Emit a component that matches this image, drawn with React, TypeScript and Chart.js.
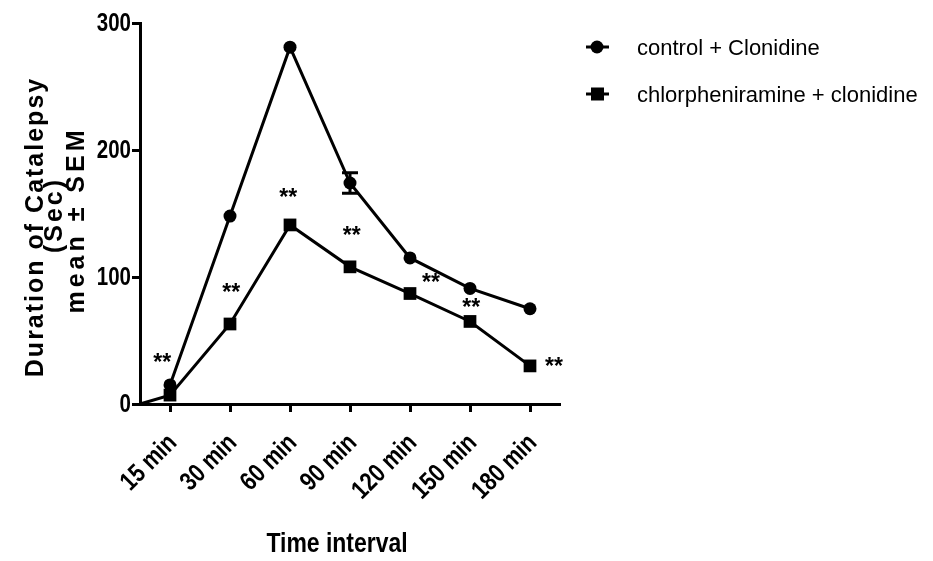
import React, { useEffect, useRef } from "react";
import { Chart, registerables } from "chart.js";

Chart.register(...registerables);

// ---------- data ----------
const timeLabels = ["15 min", "30 min", "60 min", "90 min", "120 min", "150 min", "180 min"];
const controlMeans = [15, 148, 281, 174, 115, 91, 75];
const controlSem = [0, 0, 0, 8, 0, 0, 0];
const chlorStartValue = 0; // value at time 0
const chlorMeans = [7, 63, 141, 108, 87, 65, 30];
const yTickValues = [0, 100, 200, 300];
const sigLabel = "**";
const sigX = [0.87, 2.02, 2.97, 4.03, 5.35, 6.02, 7.4];
const sigY = [35, 90, 165, 135, 98, 78, 32];
const seriesNames = ["control + Clonidine", "chlorpheniramine + clonidine"];
const yTitleLines = ["Duration of Catalepsy", "(Sec)", "mean \u00b1 SEM"];
const xTitle = "Time interval";

// ---------- styles ----------
const SANS = '"Liberation Sans", Arial, sans-serif';
const NARROW_SCALE = 0.82;
const X_MIN = 0.5;
const X_MAX = timeLabels.length + 0.5;

function condensed(
  ctx: CanvasRenderingContext2D,
  text: string,
  x: number,
  y: number,
  align: CanvasTextAlign,
  baseline: CanvasTextBaseline,
  rotation = 0
) {
  ctx.save();
  ctx.translate(x, y);
  if (rotation) ctx.rotate(rotation);
  ctx.scale(NARROW_SCALE, 1);
  ctx.textAlign = align;
  ctx.textBaseline = baseline;
  ctx.fillText(text, 0, 0);
  ctx.restore();
}

const overlay = {
  id: "overlay",
  afterDatasetsDraw(chart: any) {
    const ctx: CanvasRenderingContext2D = chart.ctx;
    const xs = chart.scales.x;
    const ys = chart.scales.y;
    ctx.save();
    ctx.strokeStyle = "#000";
    ctx.fillStyle = "#000";
    // error bars
    ctx.lineWidth = 3;
    controlMeans.forEach((m, i) => {
      const s = controlSem[i];
      if (!s) return;
      const px = xs.getPixelForValue(i + 1);
      const top = ys.getPixelForValue(m + s);
      const bot = ys.getPixelForValue(m - s);
      ctx.beginPath();
      ctx.moveTo(px, top);
      ctx.lineTo(px, bot);
      ctx.moveTo(px - 8, top);
      ctx.lineTo(px + 8, top);
      ctx.moveTo(px - 8, bot);
      ctx.lineTo(px + 8, bot);
      ctx.stroke();
    });
    // tick labels (condensed bold)
    ctx.font = "bold 25px " + SANS;
    yTickValues.forEach((v) => {
      condensed(ctx, String(v), xs.left - 9, ys.getPixelForValue(v) + 1, "right", "middle");
    });
    ctx.font = "bold 26px " + SANS;
    timeLabels.forEach((lab, i) => {
      condensed(ctx, lab, xs.getPixelForValue(i + 1) + 8, ys.bottom + 40, "right", "alphabetic", -Math.PI / 4);
    });
    // significance stars
    ctx.font = "bold 23px " + SANS;
    ctx.textAlign = "center";
    ctx.textBaseline = "middle";
    sigX.forEach((x, i) => {
      ctx.fillText(sigLabel, xs.getPixelForValue(x), ys.getPixelForValue(sigY[i]) + 4);
    });
    // legend
    const rows = [47, 94];
    ctx.font = "22px " + SANS;
    ctx.textAlign = "left";
    ctx.textBaseline = "middle";
    seriesNames.forEach((name, i) => {
      const y = rows[i];
      ctx.lineWidth = 3;
      ctx.beginPath();
      ctx.moveTo(586, y);
      ctx.lineTo(609, y);
      ctx.stroke();
      if (i === 0) {
        ctx.beginPath();
        ctx.arc(597, y, 6.5, 0, Math.PI * 2);
        ctx.fill();
      } else {
        ctx.fillRect(591, y - 6.5, 13, 13);
      }
      ctx.fillText(name, 637, y + 2);
    });
    // y title
    const yBase = [43, 62, 84];
    const yCenter = [227, 215, 220];
    const spacing = [2, 3, 4];
    ctx.font = "bold 25px " + SANS;
    ctx.textAlign = "center";
    ctx.textBaseline = "alphabetic";
    yTitleLines.forEach((line, i) => {
      ctx.save();
      (ctx as any).letterSpacing = spacing[i] + "px";
      ctx.translate(yBase[i], yCenter[i]);
      ctx.rotate(-Math.PI / 2);
      ctx.fillText(line, 0, 0);
      ctx.restore();
    });
    // x title
    ctx.font = "bold 28px " + SANS;
    condensed(ctx, xTitle, 337, 544, "center", "middle");
    ctx.restore();
  },
};

export default function App() {
  const ref = useRef<HTMLCanvasElement | null>(null);
  useEffect(() => {
    document.body.style.margin = "0";
    const canvas = ref.current;
    if (!canvas) return;
    const chart = new Chart(canvas, {
      type: "line",
      data: {
        datasets: [
          {
            label: seriesNames[0],
            data: controlMeans.map((v, i) => ({ x: i + 1, y: v })),
            borderColor: "#000",
            backgroundColor: "#000",
            borderWidth: 3,
            pointStyle: "circle",
            pointRadius: 6.5,
            pointBorderWidth: 0,
            tension: 0,
            clip: false as any,
          },
          {
            label: seriesNames[1],
            data: [{ x: X_MIN, y: chlorStartValue }, ...chlorMeans.map((v, i) => ({ x: i + 1, y: v }))],
            borderColor: "#000",
            backgroundColor: "#000",
            borderWidth: 3,
            pointStyle: "rect",
            pointRadius: (c: any) => (c.dataIndex === 0 ? 0 : 9),
            pointBorderWidth: 0,
            tension: 0,
            clip: false as any,
          },
        ],
      },
      options: {
        animation: false,
        responsive: false,
        maintainAspectRatio: false,
        layout: { padding: { top: 23, right: 373, left: 0, bottom: 0 } },
        plugins: { legend: { display: false }, tooltip: { enabled: false } },
        scales: {
          x: {
            type: "linear",
            min: X_MIN,
            max: X_MAX,
            afterBuildTicks: (s: any) => {
              s.ticks = timeLabels.map((_, i) => ({ value: i + 1 }));
            },
            afterFit: (s: any) => {
              s.height = 157;
            },
            ticks: {
              display: false,
              autoSkip: false,
              callback: (v: any) => timeLabels[Math.round(v) - 1] ?? "",
            },
            grid: {
              display: true,
              drawOnChartArea: false,
              drawTicks: true,
              tickLength: 8,
              tickWidth: 3,
              tickColor: "#000",
              color: "#000",
            },
            border: { display: true, color: "#000", width: 3 },
          },
          y: {
            type: "linear",
            min: 0,
            max: 300,
            afterBuildTicks: (s: any) => {
              s.ticks = yTickValues.map((v) => ({ value: v }));
            },
            afterFit: (s: any) => {
              s.width = 140;
            },
            ticks: { display: false },
            grid: {
              display: true,
              drawOnChartArea: false,
              drawTicks: true,
              tickLength: 8,
              tickWidth: 3,
              tickColor: "#000",
              color: "#000",
            },
            border: { display: true, color: "#000", width: 3 },
          },
        },
      },
      plugins: [overlay],
    });
    return () => chart.destroy();
  }, []);
  return (
    <div style={{ width: 933, height: 561, background: "#fff" }}>
      <canvas ref={ref} width={933} height={561} style={{ display: "block" }} />
    </div>
  );
}
